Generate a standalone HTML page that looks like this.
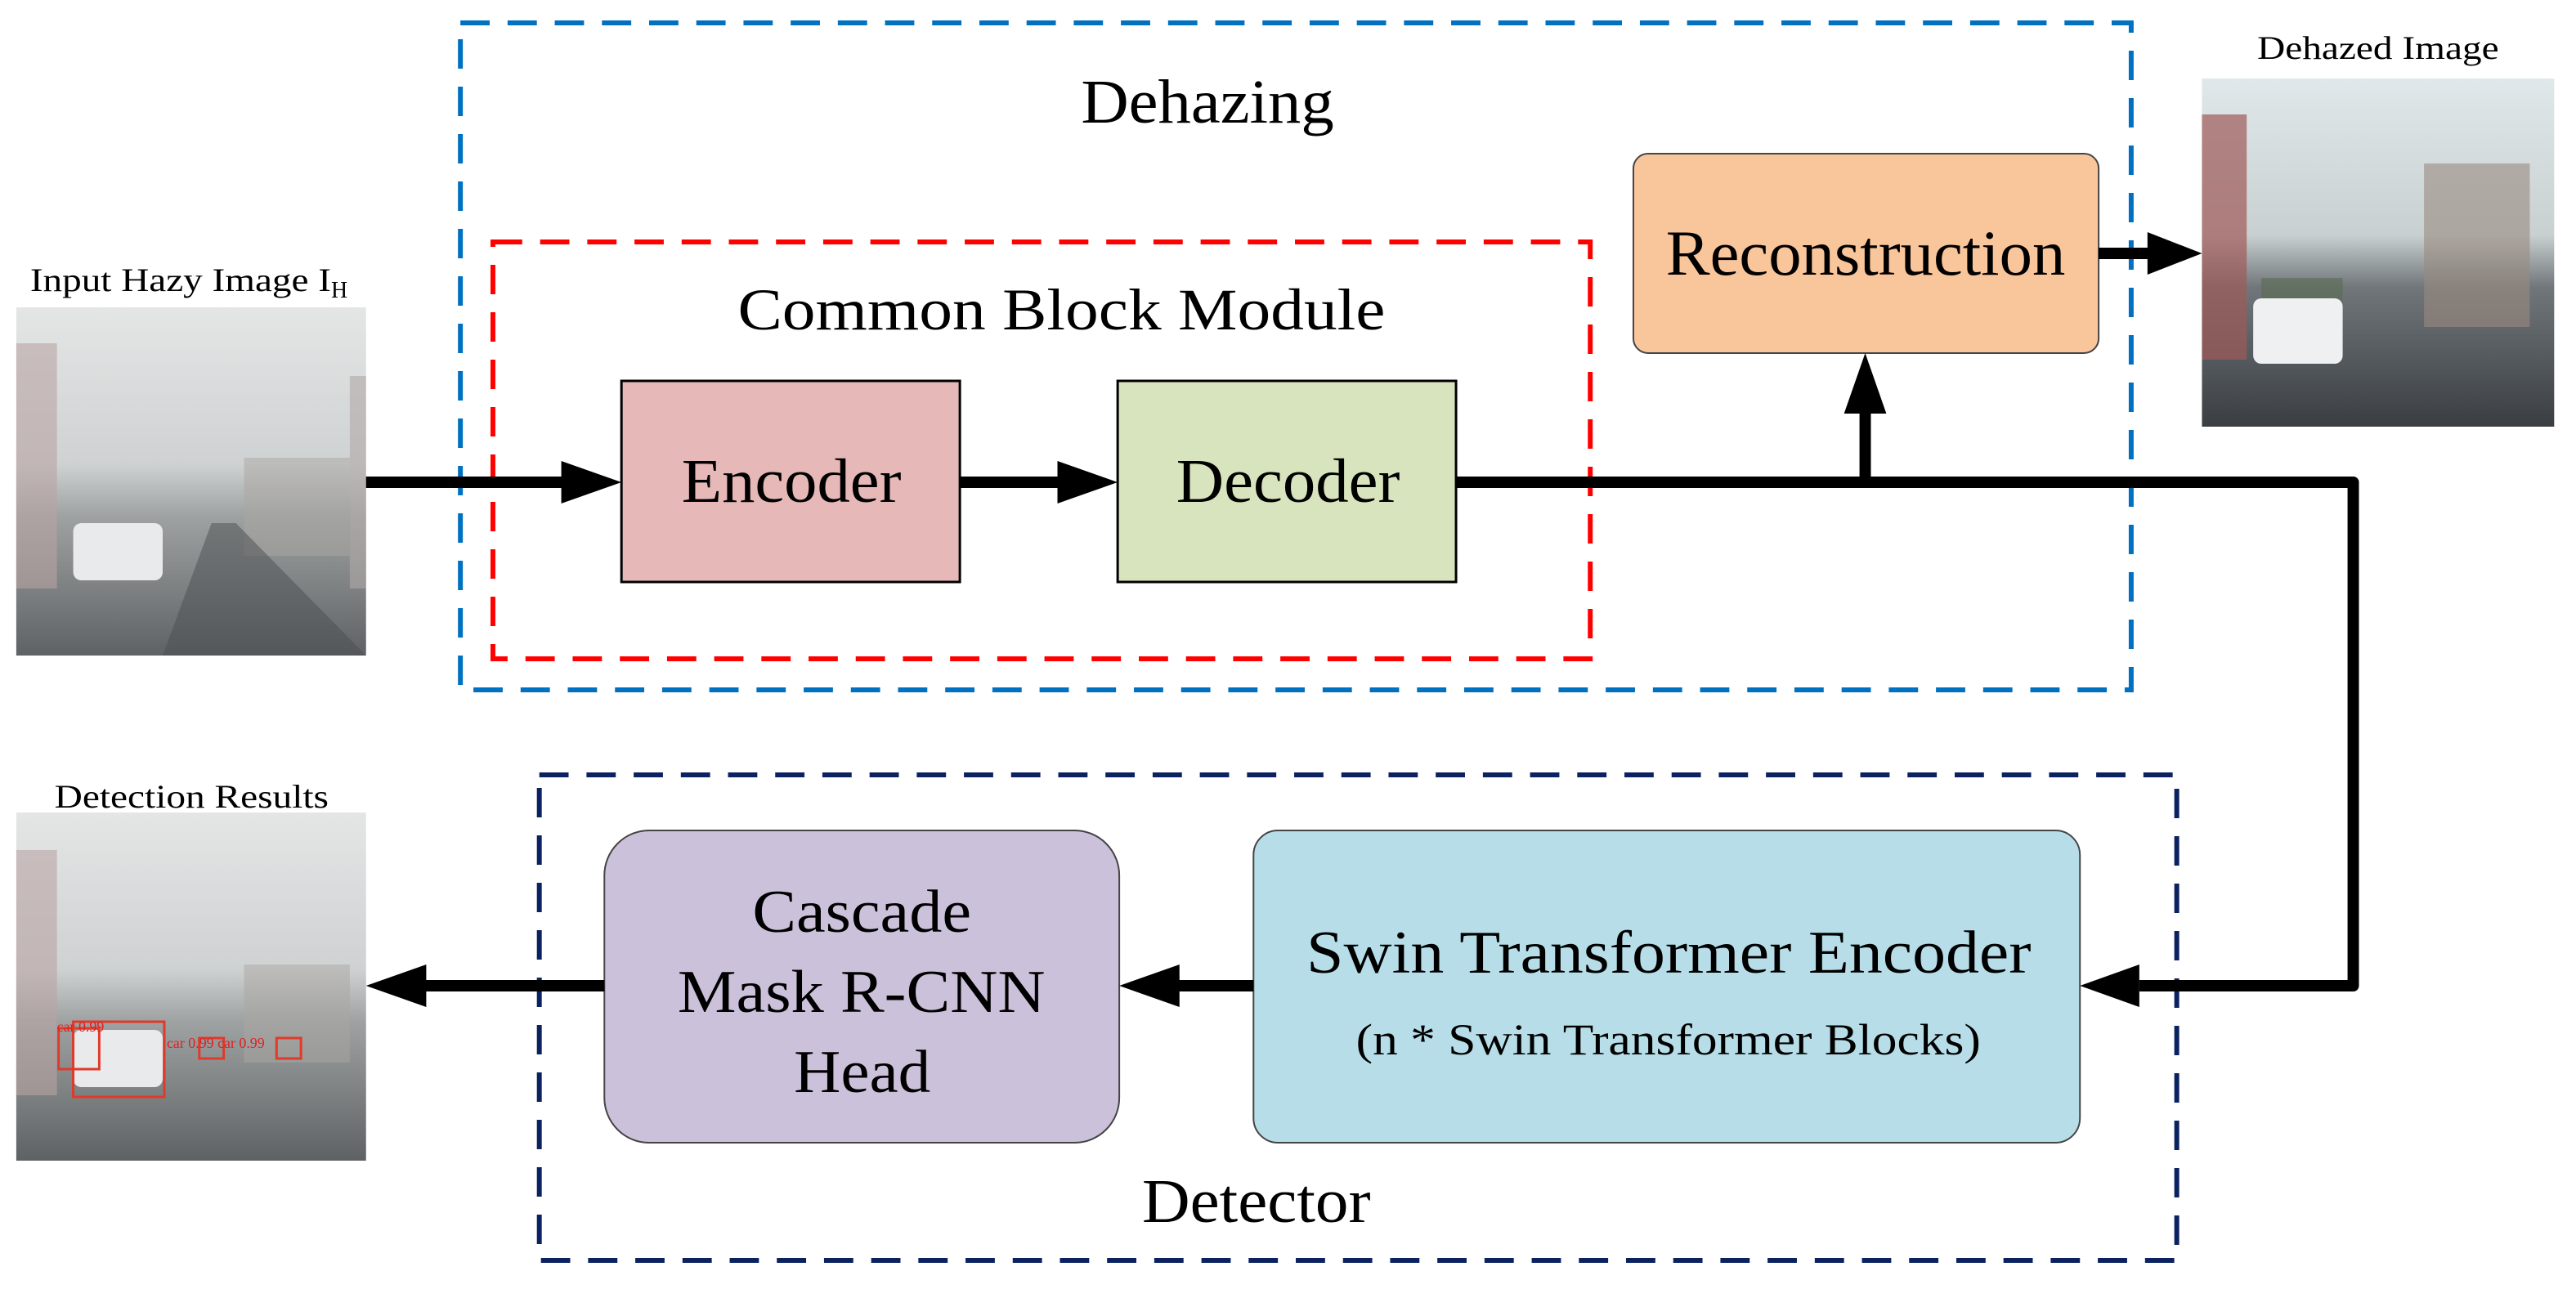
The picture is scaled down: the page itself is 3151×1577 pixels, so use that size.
<!DOCTYPE html>
<html><head><meta charset="utf-8"><style>
body{margin:0;background:#fff}
svg{display:block}
text{font-family:"Liberation Serif",serif;fill:#000}
</style></head><body>
<svg width="3151" height="1577" viewBox="0 0 3151 1577" xmlns="http://www.w3.org/2000/svg">
<defs>
<linearGradient id="haze" x1="0" y1="0" x2="0" y2="1">
<stop offset="0" stop-color="#e4e6e6"/><stop offset="0.45" stop-color="#cfd2d2"/><stop offset="0.6" stop-color="#9ea2a2"/><stop offset="1" stop-color="#5e6264"/></linearGradient>
<linearGradient id="clear" x1="0" y1="0" x2="0" y2="1">
<stop offset="0" stop-color="#dfe8ea"/><stop offset="0.45" stop-color="#c9d0d0"/><stop offset="0.6" stop-color="#70767a"/><stop offset="1" stop-color="#3a3e42"/></linearGradient>
</defs>
<g transform="scale(0.995,1)">
<!-- images -->
<g>
<rect x="20" y="376" width="430" height="426" fill="url(#haze)"/>
<rect x="20" y="420" width="50" height="300" fill="#b9a4a4" opacity="0.6"/>
<rect x="430" y="460" width="20" height="260" fill="#b0a8a8" opacity="0.6"/>
<rect x="300" y="560" width="130" height="120" fill="#aaa6a2" opacity="0.5"/>
<rect x="90" y="640" width="110" height="70" rx="10" fill="#e8eaec"/>
<polygon points="200,802 260,640 290,640 450,802" fill="#4a4e50" opacity="0.5"/>
</g>
<g>
<rect x="2707" y="96" width="433" height="426" fill="url(#clear)"/>
<rect x="2707" y="140" width="55" height="300" fill="#a05a58" opacity="0.7"/>
<rect x="2980" y="200" width="130" height="200" fill="#9a8a80" opacity="0.6"/>
<rect x="2780" y="340" width="100" height="80" fill="#5a6a52" opacity="0.6"/>
<rect x="2770" y="365" width="110" height="80" rx="10" fill="#eef0f2"/>
</g>
<g>
<rect x="20" y="994" width="430" height="426" fill="url(#haze)"/>
<rect x="20" y="1040" width="50" height="300" fill="#b9a4a4" opacity="0.6"/>
<rect x="300" y="1180" width="130" height="120" fill="#aaa6a2" opacity="0.5"/>
<rect x="90" y="1260" width="110" height="70" rx="10" fill="#e8eaec"/>
<g fill="none" stroke="#e03a2a" stroke-width="3">
<rect x="72" y="1258" width="50" height="50"/><rect x="90" y="1250" width="112" height="92"/>
<rect x="245" y="1270" width="30" height="25"/><rect x="340" y="1270" width="30" height="25"/>
</g>
<text x="70" y="1262" font-size="18" style="fill:#e02020">car 0.99</text>
<text x="205" y="1282" font-size="18" style="fill:#e02020">car 0.99 car 0.99</text>
</g>

<text x="37" y="356" font-size="40" textLength="370" lengthAdjust="spacingAndGlyphs">Input Hazy Image I</text><text x="407" y="364" font-size="28">H</text>
<text x="2775" y="72" font-size="40" textLength="297" lengthAdjust="spacingAndGlyphs">Dehazed Image</text>
<text x="67" y="988" font-size="40" textLength="337" lengthAdjust="spacingAndGlyphs">Detection Results</text>

<!-- dashed boxes -->
<rect x="566" y="28" width="2054" height="816" fill="none" stroke="#0070c0" stroke-width="6" stroke-dasharray="36,22"/>
<rect x="606" y="296" width="1349" height="510" fill="none" stroke="#ff0000" stroke-width="6" stroke-dasharray="36,22"/>
<rect x="663" y="948" width="2013" height="594" fill="none" stroke="#0b2160" stroke-width="6" stroke-dasharray="36,22"/>

<text x="1329" y="150" font-size="76" textLength="311" lengthAdjust="spacingAndGlyphs">Dehazing</text>
<text x="907" y="403" font-size="72" textLength="796" lengthAdjust="spacingAndGlyphs">Common Block Module</text>
<text x="1404" y="1495" font-size="76" textLength="281" lengthAdjust="spacingAndGlyphs">Detector</text>

<!-- boxes -->
<rect x="764" y="466" width="416" height="246" fill="#e6b9b8" stroke="#000" stroke-width="3"/>
<text x="838" y="614" font-size="76" textLength="270" lengthAdjust="spacingAndGlyphs">Encoder</text>
<rect x="1374" y="466" width="416" height="246" fill="#d8e4bd" stroke="#000" stroke-width="3"/>
<text x="1446" y="614" font-size="76" textLength="275" lengthAdjust="spacingAndGlyphs">Decoder</text>
<rect x="2008" y="188" width="572" height="244" rx="18" fill="#f9c59b" stroke="#444" stroke-width="2"/>
<text x="2048" y="336" font-size="78" textLength="491" lengthAdjust="spacingAndGlyphs">Reconstruction</text>
<rect x="743" y="1016" width="633" height="382" rx="55" fill="#ccc1da" stroke="#444" stroke-width="2"/>
<text x="925" y="1140" font-size="74" textLength="269" lengthAdjust="spacingAndGlyphs">Cascade</text>
<text x="833" y="1238" font-size="74" textLength="452" lengthAdjust="spacingAndGlyphs">Mask R-CNN</text>
<text x="976" y="1336" font-size="74" textLength="168" lengthAdjust="spacingAndGlyphs">Head</text>
<rect x="1541" y="1016" width="1016" height="382" rx="30" fill="#b7dee8" stroke="#444" stroke-width="2"/>
<text x="1606" y="1190" font-size="74" textLength="891" lengthAdjust="spacingAndGlyphs">Swin Transformer Encoder</text>
<text x="1667" y="1290" font-size="54" textLength="768" lengthAdjust="spacingAndGlyphs">(n * Swin Transformer Blocks)</text>

<!-- connectors -->
<g stroke="#000" stroke-width="14" fill="none">
<line x1="450" y1="590" x2="700" y2="590"/>
<line x1="1180" y1="590" x2="1310" y2="590"/>
<polyline points="1790,590 2893,590 2893,1206 2630,1206" stroke-linejoin="round"/>
<line x1="2293" y1="590" x2="2293" y2="500"/>
<line x1="2580" y1="310" x2="2650" y2="310"/>
<line x1="1541" y1="1206" x2="1440" y2="1206"/>
<line x1="743" y1="1206" x2="520" y2="1206"/>
</g>
<g fill="#000">
<polygon points="690,564 764,590 690,616"/>
<polygon points="1300,564 1374,590 1300,616"/>
<polygon points="2267,506 2293,432 2319,506"/>
<polygon points="2640,284 2707,310 2640,336"/>
<polygon points="2630,1180 2557,1206 2630,1232"/>
<polygon points="1450,1180 1376,1206 1450,1232"/>
<polygon points="524,1180 450,1206 524,1232"/>
</g>
</g>
</svg>
</body></html>
